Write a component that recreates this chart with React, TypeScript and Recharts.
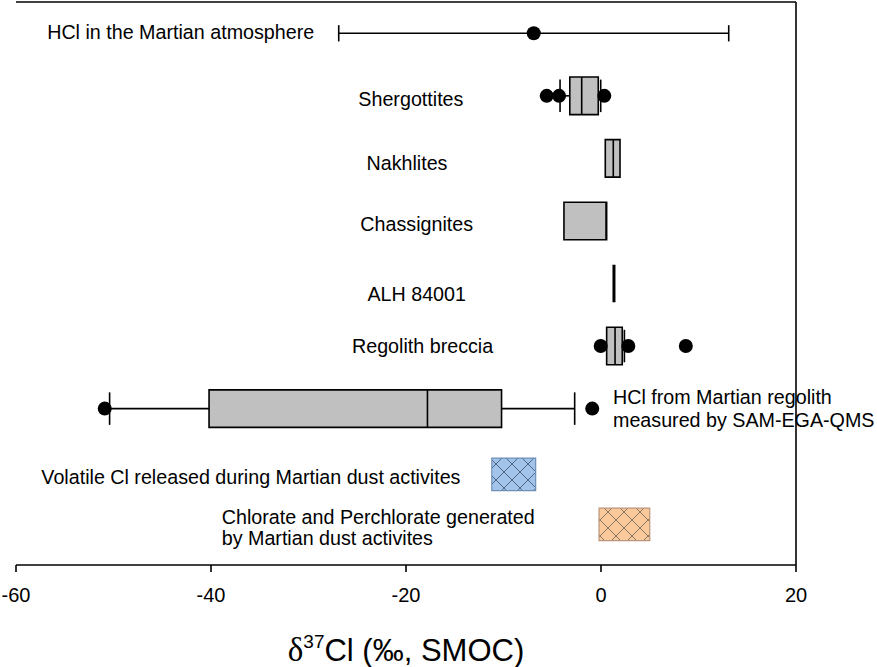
import React from 'react';
import { ComposedChart, XAxis, YAxis, Scatter, ReferenceArea, ReferenceLine } from 'recharts';

// ---------- data ----------
const xTicks = [-60, -40, -20, 0, 20];
const xDomain = [-60, 20];
const yDomain = [0, 9];

// box plots (rows positioned on a 0..9 row scale, top to bottom)
const boxRows = ['Shergottites', 'Nakhlites', 'Chassignites', 'Regolith breccia', 'HCl from Martian regolith'];
const boxRowPos = [1.5, 2.5, 3.5, 5.5, 6.5];
const boxQ1 = [-3.2, 0.44, -3.8, 0.58, -40.2];
const boxMedian = [-1.98, 1.26, 0.52, 1.44, -17.8];
const boxQ3 = [-0.28, 1.95, 0.58, 2.18, -10.2];
const whiskerLow: (number | null)[] = [-4.2, null, null, null, -50.4];
const whiskerHigh: (number | null)[] = [-0.03, null, null, 2.4, -2.7];

// range bar for HCl in the Martian atmosphere
const atmRow = 0.5;
const atmLow = -26.9;
const atmHigh = 13.1;

// single value (ALH 84001)
const alhRow = 4.5;
const alhValue = 1.33;

// individual points
const dotX = [-6.9, -5.57, -4.3, 0.34, -0.03, 2.8, 8.7, -50.9, -0.9];
const dotY = [0.5, 1.5, 1.5, 1.5, 5.5, 5.5, 5.5, 6.5, 6.5];

// hatched ranges
const hatchNames = ['Volatile Cl', 'Chlorate and Perchlorate'];
const hatchRow = [7.55, 8.35];
const hatchLow = [-11.2, -0.2];
const hatchHigh = [-6.7, 5.0];

// text labels
const labelText = [
  'HCl in the Martian atmosphere',
  'Shergottites',
  'Nakhlites',
  'Chassignites',
  'ALH 84001',
  'Regolith breccia',
  'HCl from Martian regolith',
  'measured by SAM-EGA-QMS',
  'Volatile Cl released during Martian dust activites',
  'Chlorate and Perchlorate generated',
  'by Martian dust activites',
];
const labelX = [-56.8, -19.5, -19.9, -18.9, -18.9, -18.3, 1.23, 1.23, -57.4, -38.9, -38.9];
const labelY = [0.48, 1.55, 2.57, 3.55, 4.67, 5.5, 6.31, 6.68, 7.59, 8.23, 8.57];
const labelAnchor = ['start', 'middle', 'middle', 'middle', 'middle', 'middle', 'start', 'start', 'start', 'start', 'start'];

// ---------- style ----------
const FONT = '"Liberation Sans", Arial, sans-serif';
const BOX_HALF = 0.3;
const CAP_HALF = 0.26;
const ATM_CAP_HALF = 0.13;
const HATCH_HALF = 0.26;
const hatchFill = ['#a3c4ea', '#f9c99c'];
const hatchLine = ['#4d6686', '#8a7363'];
const hatchStroke = ['#6f8fb5', '#b9957a'];

const dots = dotX.map((x, i) => ({ x, y: dotY[i] }));
const labels = labelText.map((t, i) => ({ x: labelX[i], y: labelY[i], text: t, anchor: labelAnchor[i] }));

const DotShape = (p: any) => <circle cx={p.cx} cy={p.cy} r={7} fill="#000" />;
const LabelShape = (p: any) => (
  <text
    x={p.cx}
    y={p.cy}
    textAnchor={p.payload.anchor}
    dominantBaseline="central"
    fontFamily={FONT}
    fontSize={19.7}
    fill="#000"
  >
    {p.payload.text}
  </text>
);

const AxisTitle = (props: any) => {
  const vb = props.viewBox;
  const cx = vb.x + vb.width / 2;
  return (
    <text x={cx} y={vb.y + 96} textAnchor="middle" fontFamily={FONT} fontSize={31} fill="#000">
      <tspan fontFamily='"Liberation Serif", serif' fontSize={33}>δ</tspan>
      <tspan fontSize={19} dy={-13}>37</tspan>
      <tspan dy={13}>Cl (‰, SMOC)</tspan>
    </text>
  );
};

export default function App() {
  const lineProps = { stroke: '#000', strokeWidth: 1.6 };
  return (
    <div style={{ position: 'absolute', left: 0, top: 0, background: '#fff' }}>
      <ComposedChart width={877} height={667} margin={{ top: 2, right: 81, bottom: 2, left: 16 }}>
        <defs>
          {hatchNames.map((n, i) => (
            <pattern key={n} id={`hatch${i}`} patternUnits="userSpaceOnUse" width={16} height={16}>
              <rect x={0} y={0} width={16} height={16} fill={hatchFill[i]} />
              <path d="M0,0 L16,16 M16,0 L0,16" stroke={hatchLine[i]} strokeWidth={1} />
            </pattern>
          ))}
        </defs>
        <XAxis
          type="number"
          dataKey="x"
          domain={xDomain}
          ticks={xTicks}
          height={100}
          tickSize={7}
          tickMargin={16}
          axisLine={{ stroke: '#000', strokeWidth: 1.6 }}
          tickLine={{ stroke: '#000', strokeWidth: 1.6 }}
          tick={{ fill: '#000', fontSize: 20, fontFamily: FONT }}
          label={<AxisTitle />}
        />
        <YAxis
          type="number"
          dataKey="y"
          domain={yDomain}
          reversed
          width={0}
          tick={false}
          tickLine={false}
          axisLine={{ stroke: '#000', strokeWidth: 1.6 }}
        />

        {/* frame: top and right */}
        <ReferenceLine y={yDomain[0]} {...lineProps} />
        <ReferenceLine x={xDomain[1]} {...lineProps} />

        {/* atmosphere range */}
        <ReferenceLine segment={[{ x: atmLow, y: atmRow }, { x: atmHigh, y: atmRow }]} {...lineProps} />
        <ReferenceLine segment={[{ x: atmLow, y: atmRow - ATM_CAP_HALF }, { x: atmLow, y: atmRow + ATM_CAP_HALF }]} {...lineProps} />
        <ReferenceLine segment={[{ x: atmHigh, y: atmRow - ATM_CAP_HALF }, { x: atmHigh, y: atmRow + ATM_CAP_HALF }]} {...lineProps} />

        {/* whiskers */}
        {boxRows.map((n, i) => {
          const els: React.ReactNode[] = [];
          const lo = whiskerLow[i];
          const hi = whiskerHigh[i];
          const y = boxRowPos[i];
          if (lo !== null) {
            els.push(<ReferenceLine key={`wl${i}`} segment={[{ x: lo, y }, { x: boxQ1[i], y }]} {...lineProps} />);
            els.push(<ReferenceLine key={`cl${i}`} segment={[{ x: lo, y: y - CAP_HALF }, { x: lo, y: y + CAP_HALF }]} {...lineProps} />);
          }
          if (hi !== null) {
            els.push(<ReferenceLine key={`wh${i}`} segment={[{ x: boxQ3[i], y }, { x: hi, y }]} {...lineProps} />);
            els.push(<ReferenceLine key={`ch${i}`} segment={[{ x: hi, y: y - CAP_HALF }, { x: hi, y: y + CAP_HALF }]} {...lineProps} />);
          }
          return els;
        })}

        <Scatter data={dots} shape={DotShape} isAnimationActive={false} />

        {/* boxes */}
        {boxRows.map((n, i) => (
          <ReferenceArea
            key={`b${i}`}
            x1={boxQ1[i]}
            x2={boxQ3[i]}
            y1={boxRowPos[i] - BOX_HALF}
            y2={boxRowPos[i] + BOX_HALF}
            fill="#c0c0c0"
            fillOpacity={1}
            stroke="#000"
            strokeWidth={1.6}
          />
        ))}
        {boxRows.map((n, i) => (
          <ReferenceLine
            key={`m${i}`}
            segment={[{ x: boxMedian[i], y: boxRowPos[i] - BOX_HALF }, { x: boxMedian[i], y: boxRowPos[i] + BOX_HALF }]}
            {...lineProps}
          />
        ))}

        {/* ALH 84001 single value */}
        <ReferenceLine
          segment={[{ x: alhValue, y: alhRow - BOX_HALF }, { x: alhValue, y: alhRow + BOX_HALF }]}
          stroke="#000"
          strokeWidth={3}
        />

        {/* hatched ranges */}
        {hatchNames.map((n, i) => (
          <ReferenceArea
            key={`h${i}`}
            x1={hatchLow[i]}
            x2={hatchHigh[i]}
            y1={hatchRow[i] - HATCH_HALF}
            y2={hatchRow[i] + HATCH_HALF}
            fill={`url(#hatch${i})`}
            fillOpacity={1}
            stroke={hatchStroke[i]}
            strokeWidth={1.2}
          />
        ))}

        <Scatter data={labels} shape={LabelShape} isAnimationActive={false} />
      </ComposedChart>
    </div>
  );
}
